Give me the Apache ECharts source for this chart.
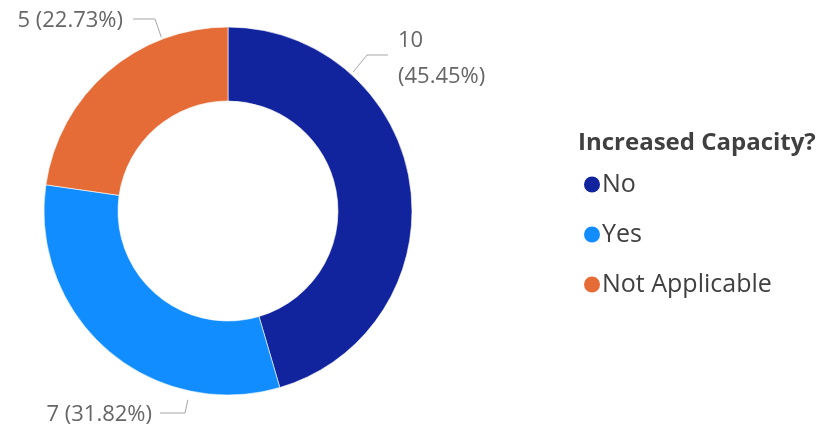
<!DOCTYPE html>
<html>
<head>
<meta charset="utf-8">
<script src="https://cdn.jsdelivr.net/npm/echarts@6/dist/echarts.min.js"></script>
<style>
  html, body { margin: 0; padding: 0; background: #fff; }
  #chart { width: 825px; height: 430px; }
</style>
</head>
<body>
<div id="chart"></div>
<script>
// Survey answers for "Increased Capacity?"
const categories = ['No', 'Yes', 'Not Applicable'];
const counts = [10, 7, 5];
const colors = ['#12239E', '#118DFF', '#E66C37'];
const legendTitle = 'Increased Capacity?';

const FONT = '"Open Sans", "Noto Sans", sans-serif';
const CX = 228, CY = 211, R_IN = 110, R_OUT = 184;

const total = counts.reduce((a, b) => a + b, 0);
const pct = v => (v / total * 100).toFixed(2) + '%';

// Where each callout sits: anchor angle on the ring (deg clockwise from top),
// label anchor point and alignment, elbow and end of the leader line.
const callouts = {
  'No':             { angle: 42,  gap: 3, x: 398, y: 59,  align: 'left',  elbow: [367, 55], end: [388, 55], twoLines: true },
  'Yes':            { angle: 192, gap: 9, x: 152, y: 415, align: 'right', elbow: [185, 413], end: [160, 413] },
  'Not Applicable': { angle: -21, gap: 2, x: 123, y: 21,  align: 'right', elbow: [155, 19], end: [133, 19] }
};

function polar(angleDeg, r) {
  const a = angleDeg * Math.PI / 180;
  return [CX + r * Math.sin(a), CY - r * Math.cos(a)];
}

const chart = echarts.init(document.getElementById('chart'), null, { renderer: 'canvas' });

chart.setOption({
  animation: false,
  backgroundColor: '#ffffff',
  color: colors,
  title: {
    text: legendTitle,
    left: 573,
    top: 126,
    textStyle: { fontFamily: FONT, fontSize: 24, fontWeight: 'bold', color: '#404040' }
  },
  legend: {
    orient: 'vertical',
    left: 577,
    top: 167,
    icon: 'circle',
    itemWidth: 18,
    itemHeight: 18,
    itemGap: 25,
    data: categories,
    textStyle: { fontFamily: FONT, fontSize: 25, color: '#404040', padding: [0, 0, 0, -4] }
  },
  series: [{
    type: 'pie',
    center: [CX, CY],
    radius: [R_IN, R_OUT],
    startAngle: 90,
    clockwise: true,
    avoidLabelOverlap: false,
    emphasis: { disabled: true },
    itemStyle: { borderColor: '#ffffff', borderWidth: 0.6 },
    label: {
      show: true,
      position: 'outside',
      fontFamily: FONT,
      fontSize: 22,
      color: '#666666',
      lineHeight: 36,
      formatter: p => {
        const c = callouts[p.name];
        return c.twoLines ? p.value + '\n(' + pct(p.value) + ')' : p.value + ' (' + pct(p.value) + ')';
      }
    },
    labelLine: {
      show: true,
      length: 10,
      length2: 10,
      lineStyle: { color: '#A6A6A6', width: 1 }
    },
    labelLayout: params => {
      const c = callouts[categories[params.dataIndex]];
      return {
        x: c.x,
        y: c.y,
        align: c.align,
        verticalAlign: 'middle',
        labelLinePoints: [polar(c.angle, R_OUT + c.gap), c.elbow, c.end]
      };
    },
    data: categories.map((name, i) => ({ name, value: counts[i] }))
  }]
});
</script>
</body>
</html>
